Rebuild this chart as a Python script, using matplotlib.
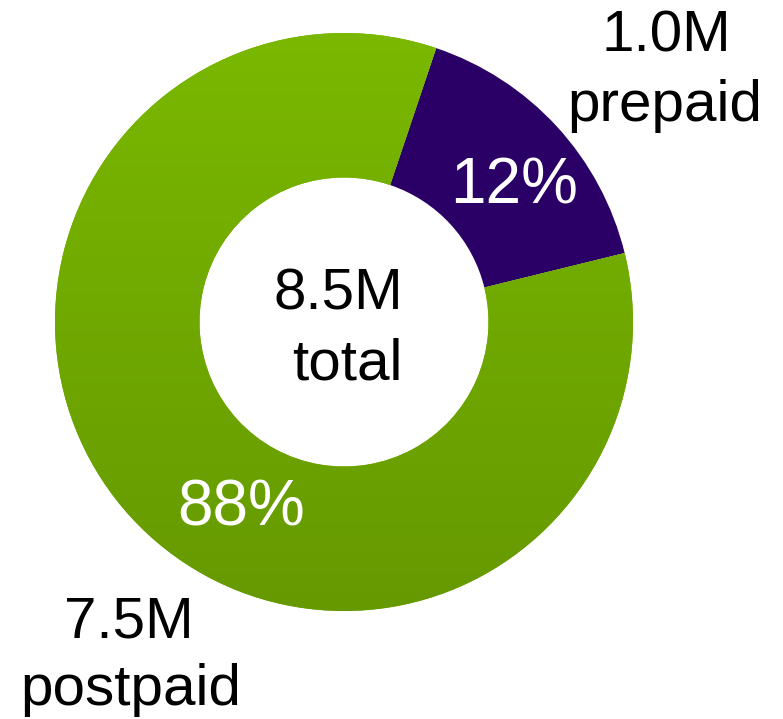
"""
Donut chart: prepaid vs postpaid subscribers
"""
import numpy as np
import matplotlib.pyplot as plt
from matplotlib.colors import LinearSegmentedColormap

plt.rcParams['font.family'] = ['Liberation Sans', 'DejaVu Sans']

# Data (wedge shares as drawn in the picture, labels as printed)
segments = ['prepaid', 'postpaid']
shares = [16, 84]
pct_labels = ['12%', '88%']
counts = ['1.0M', '7.5M']
total_lines = ['8.5M', 'total']

W, H = 783, 719
fig = plt.figure(figsize=(W / 100, H / 100), dpi=100)
ax = fig.add_axes([0, 0, 1, 1])

cx, cy, r = 344, H - 322, 289
wedges, _ = ax.pie(shares, colors=['#2a0066', '#72ad00'], startangle=13.8,
                   center=(cx, cy), radius=r, frame=True,
                   wedgeprops=dict(width=r * 0.5, linewidth=0))

# vertical gradient on the green wedge
green = LinearSegmentedColormap.from_list('g', ['#669900', '#7ab800'])
grad = np.linspace(0, 1, 256).reshape(-1, 1)
img = ax.imshow(grad, cmap=green, origin='lower', aspect='auto',
                extent=(cx - r, cx + r, cy - r, cy + r), zorder=wedges[1].get_zorder())
img.set_clip_path(wedges[1])

ax.set_xlim(0, W)
ax.set_ylim(0, H)
ax.set_aspect('equal')
ax.axis('off')

fs = 42
pfs = 46


def put(x, y, s, size, color='black'):
    # y given in image pixels from the top, as baseline
    ax.text(x, H - y, s, ha='center', va='baseline', fontsize=size, color=color)


put(338, 310, total_lines[0], fs)
put(347, 380, total_lines[1], fs)
put(514, 203, pct_labels[0], pfs, 'white')
put(241, 526, pct_labels[1], pfs, 'white')
put(666, 52, counts[0], fs)
put(665, 121, segments[0], fs)
put(129, 637, counts[1], fs)
put(131, 705, segments[1], fs)

fig.savefig('out.png', dpi=100)
